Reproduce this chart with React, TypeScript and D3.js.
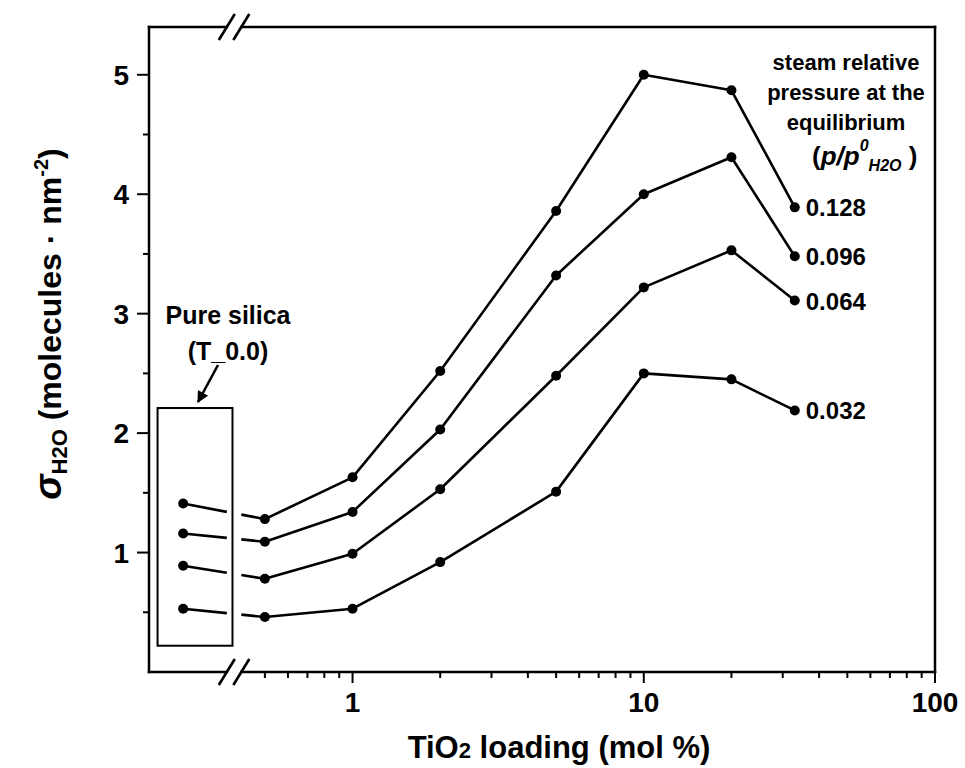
import React from "react";
import * as d3 from "d3";

// ---------- data ----------
const pressureLabels = ["0.128", "0.096", "0.064", "0.032"];
const loadings = [0.5, 1, 2, 5, 10, 20, 33];
const pureSilicaX = 0.262; // position of the T_0.0 points on the broken axis
const pureSilica = [1.41, 1.16, 0.89, 0.53];
const sigma128 = [1.28, 1.63, 2.52, 3.86, 5.0, 4.87, 3.89];
const sigma096 = [1.09, 1.34, 2.03, 3.32, 4.0, 4.31, 3.48];
const sigma064 = [0.78, 0.99, 1.53, 2.48, 3.22, 3.53, 3.11];
const sigma032 = [0.46, 0.53, 0.92, 1.51, 2.5, 2.45, 2.19];
const seriesValues = [sigma128, sigma096, sigma064, sigma032];

const xMajorTicks = [1, 10, 100];
const xTickLabels = ["1", "10", "100"];
const xMinorTicks = [0.5, 0.6, 0.7, 0.8, 0.9, 2, 3, 4, 5, 6, 7, 8, 9, 20, 30, 40, 50, 60, 70, 80, 90];
const yMajorTicks = [1, 2, 3, 4, 5];
const yMinorTicks = [0.5, 1.5, 2.5, 3.5, 4.5];

const xDomain = [0.2, 100];
const yDomain = [0, 5.4];
const breakLo = 0.37;
const breakHi = 0.415;
const boxX = [0.214, 0.387];
const boxY = [0.22, 2.21];

const W = 965;
const H = 768;
const left = 149;
const right = 935;
const top = 27;
const bottom = 672;

const FONT = "'Liberation Sans', Arial, Helvetica, sans-serif";

export default function App() {
  const x = d3.scaleLog().domain(xDomain).range([left, right]);
  const y = d3.scaleLinear().domain(yDomain).range([bottom, top]);
  const line = d3
    .line<[number, number]>()
    .x((d) => x(d[0]))
    .y((d) => y(d[1]));

  const xb0 = x(breakLo);
  const xb1 = x(breakHi);
  const sw = 2.6;

  const slash = (cx: number, cy: number, k: string) => (
    <line key={k} x1={cx - 8} y1={cy + 13} x2={cx + 8} y2={cy - 13} stroke="#000" strokeWidth={2.6} />
  );

  return (
    <svg
      width={W}
      height={H}
      style={{ position: "absolute", left: 0, top: 0, background: "#fff" }}
      fontFamily={FONT}
    >
      <rect x={0} y={0} width={W} height={H} fill="#fff" />
      {/* frame */}
      <g stroke="#000" strokeWidth={2.5} fill="none" strokeLinecap="square">
        <line x1={left} y1={top} x2={left} y2={bottom} />
        <line x1={right} y1={top} x2={right} y2={bottom} />
        <line x1={left} y1={top} x2={xb0} y2={top} />
        <line x1={xb1} y1={top} x2={right} y2={top} />
        <line x1={left} y1={bottom} x2={xb0} y2={bottom} />
        <line x1={xb1} y1={bottom} x2={right} y2={bottom} />
      </g>
      {slash(xb0, top, "t0")}
      {slash(xb1, top, "t1")}
      {slash(xb0, bottom, "b0")}
      {slash(xb1, bottom, "b1")}

      {/* ticks */}
      <g stroke="#000" strokeWidth={2}>
        {xMajorTicks.map((t) => (
          <line key={"xM" + t} x1={x(t)} x2={x(t)} y1={bottom} y2={bottom + 11} />
        ))}
        {xMinorTicks.map((t) => (
          <line key={"xm" + t} x1={x(t)} x2={x(t)} y1={bottom} y2={bottom + 6} />
        ))}
        {yMajorTicks.map((t) => (
          <line key={"yM" + t} x1={left - 12} x2={left} y1={y(t)} y2={y(t)} />
        ))}
        {yMinorTicks.map((t) => (
          <line key={"ym" + t} x1={left - 6} x2={left} y1={y(t)} y2={y(t)} />
        ))}
      </g>
      <g fontSize={28} fontWeight="bold" fill="#000">
        {xMajorTicks.map((t, i) => (
          <text key={"xl" + t} x={x(t)} y={bottom + 40} textAnchor="middle">
            {xTickLabels[i]}
          </text>
        ))}
        {yMajorTicks.map((t) => (
          <text key={"yl" + t} x={left - 20} y={y(t) + 10} textAnchor="end">
            {t}
          </text>
        ))}
      </g>

      {/* axis titles */}
      <text x={559} y={758} textAnchor="middle" fontSize={31} fontWeight="bold">
        TiO<tspan fontSize={22}>2</tspan> loading (mol %)
      </text>
      <text
        transform={`translate(61, ${324}) rotate(-90)`}
        textAnchor="middle"
        fontSize={32}
        fontWeight="bold"
      >
        <tspan fontStyle="italic" fontSize={38}>σ</tspan>
        <tspan fontSize={22} dy={6}>H2O</tspan>
        <tspan dy={-6}> (molecules · nm</tspan>
        <tspan fontSize={20} dy={-13}>-2</tspan>
        <tspan dy={13}>)</tspan>
      </text>

      {/* pure silica box */}
      <rect
        x={x(boxX[0])}
        y={y(boxY[1])}
        width={x(boxX[1]) - x(boxX[0])}
        height={y(boxY[0]) - y(boxY[1])}
        fill="none"
        stroke="#000"
        strokeWidth={2}
      />
      <g fontSize={25} fontWeight="bold" textAnchor="middle">
        <text x={228} y={324}>Pure silica</text>
        <text x={228} y={360}>(T_0.0)</text>
      </g>
      <defs>
        <marker id="ah" viewBox="0 0 10 10" refX={9} refY={5} markerWidth={4.5} markerHeight={4.5} orient="auto">
          <path d="M0,0 L10,5 L0,10 z" fill="#000" />
        </marker>
      </defs>
      <line x1={218} y1={365} x2={198} y2={402} stroke="#000" strokeWidth={2.6} markerEnd="url(#ah)" />

      {/* series */}
      {seriesValues.map((vals, i) => {
        const pts: [number, number][] = loadings.map((l, j) => [l, vals[j]]);
        const p0: [number, number] = [x(pureSilicaX), y(pureSilica[i])];
        const p1: [number, number] = [x(loadings[0]), y(vals[0])];
        const interp = (px: number) => p0[1] + ((px - p0[0]) / (p1[0] - p0[0])) * (p1[1] - p0[1]);
        return (
          <g key={"s" + i}>
            <path d={line(pts) || ""} fill="none" stroke="#000" strokeWidth={sw} strokeLinejoin="round" />
            <line x1={p0[0]} y1={p0[1]} x2={xb0} y2={interp(xb0)} stroke="#000" strokeWidth={sw} />
            <line x1={xb1} y1={interp(xb1)} x2={p1[0]} y2={p1[1]} stroke="#000" strokeWidth={sw} />
            <circle cx={p0[0]} cy={p0[1]} r={5} fill="#000" />
            {pts.map((d, j) => (
              <circle key={j} cx={x(d[0])} cy={y(d[1])} r={5} fill="#000" />
            ))}
            <text
              x={x(loadings[loadings.length - 1]) + 11}
              y={y(vals[vals.length - 1]) + 9}
              fontSize={24}
              fontWeight="bold"
            >
              {pressureLabels[i]}
            </text>
          </g>
        );
      })}

      {/* legend title */}
      <g fontSize={22} fontWeight="bold" textAnchor="middle">
        <text x={846} y={70}>steam relative</text>
        <text x={846} y={100}>pressure at the</text>
        <text x={846} y={130}>equilibrium</text>
      </g>
      <text x={812} y={165} fontSize={26} fontWeight="bold">
        (<tspan fontStyle="italic">p/p</tspan>
        <tspan fontStyle="italic" fontSize={16} dy={-14}>0</tspan>
        <tspan fontStyle="italic" fontSize={16} dy={20}>H2O</tspan>
        <tspan dy={-6}> )</tspan>
      </text>
    </svg>
  );
}
